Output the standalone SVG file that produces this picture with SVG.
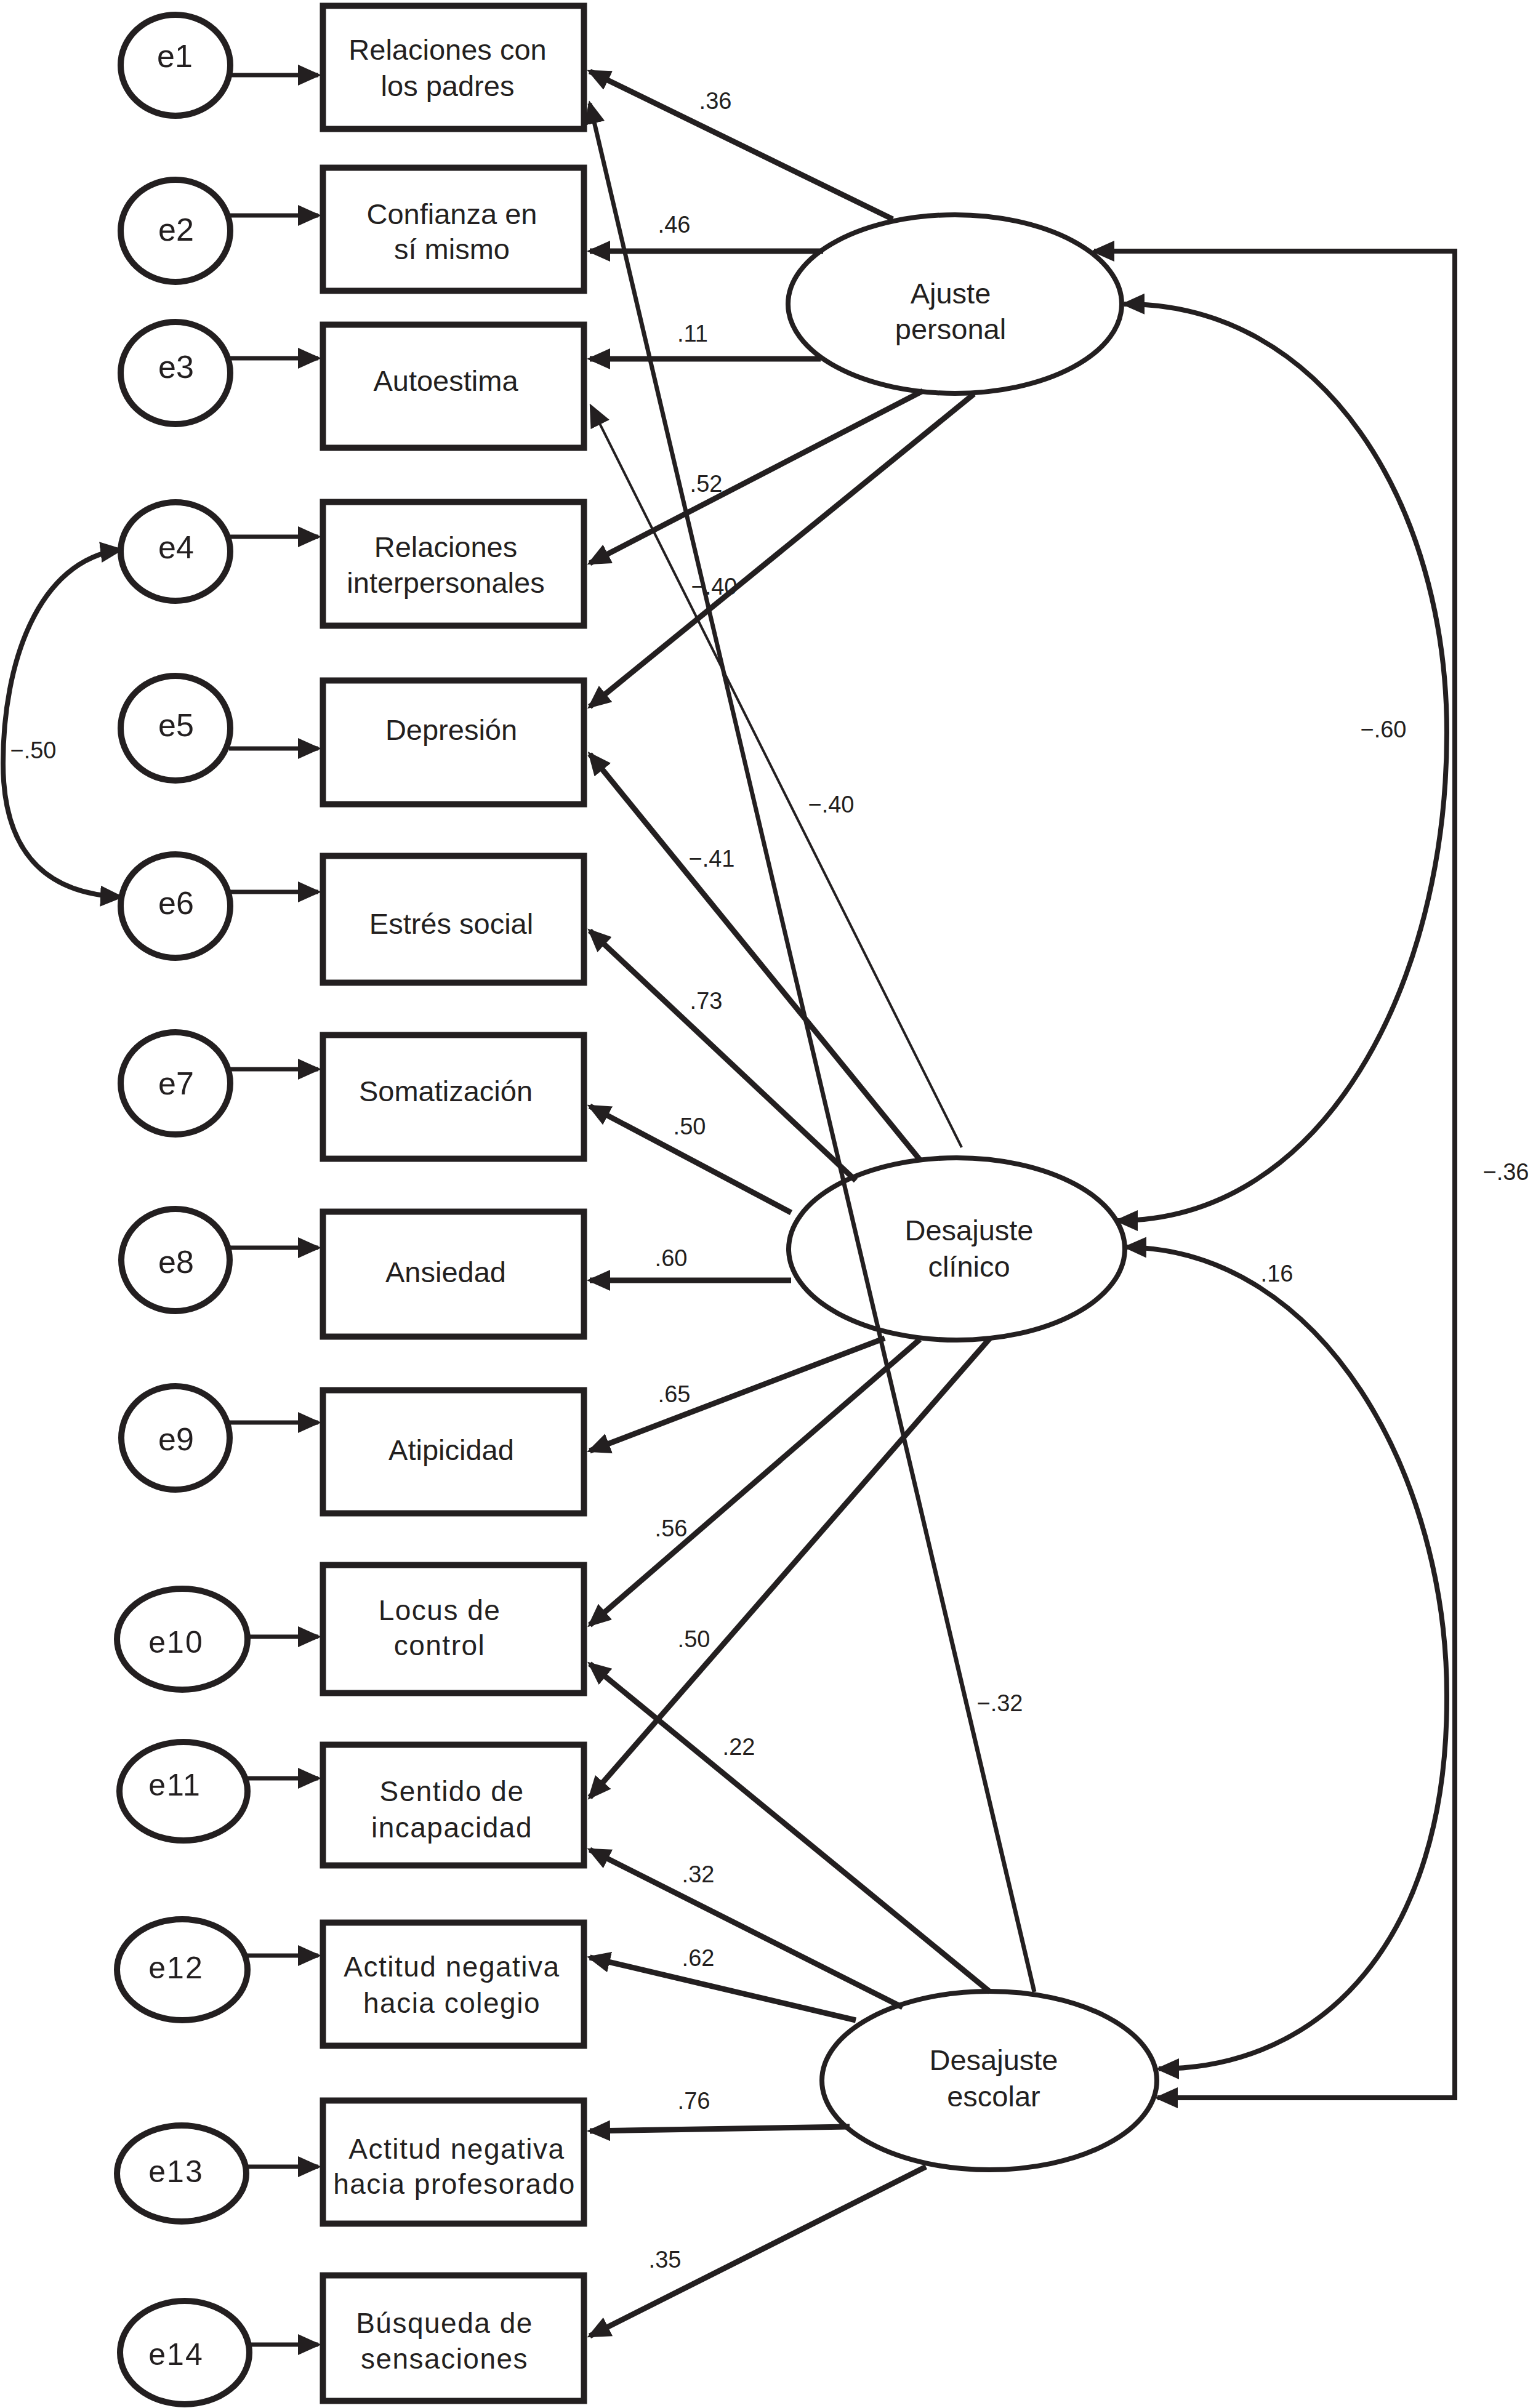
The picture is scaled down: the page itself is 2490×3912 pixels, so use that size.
<svg xmlns="http://www.w3.org/2000/svg" width="2490" height="3912" viewBox="0 0 2490 3912">
<defs>
<style>
.box{fill:#fff;stroke:#231f20;stroke-width:10}
.err{fill:#fff;stroke:#231f20;stroke-width:10}
.lat{fill:#fff;stroke:#231f20;stroke-width:8}
.c{fill:none;stroke:#231f20;stroke-width:9;marker-end:url(#ah)}
.ea{fill:none;stroke:#231f20;stroke-width:7;marker-end:url(#ah)}
.thin{stroke-width:4}
.mid{stroke-width:7}
.cov{fill:none;stroke:#231f20;stroke-width:8;marker-start:url(#ah);marker-end:url(#ah)}
.t{font-family:"Liberation Sans",Arial,Helvetica,sans-serif;font-size:47px;fill:#231f20;text-anchor:middle}
.tw{font-family:"Liberation Sans",Arial,Helvetica,sans-serif;font-size:46px;fill:#231f20;text-anchor:middle;letter-spacing:1.5px}
.et{font-family:"Liberation Sans",Arial,Helvetica,sans-serif;font-size:52px;fill:#231f20;text-anchor:middle}
.etw{font-family:"Liberation Sans",Arial,Helvetica,sans-serif;font-size:50px;fill:#231f20;text-anchor:middle;letter-spacing:2px}
.lab{font-family:"Liberation Sans",Arial,Helvetica,sans-serif;font-size:38px;fill:#231f20;text-anchor:middle}
</style>
<marker id="ah" markerUnits="userSpaceOnUse" viewBox="0 0 38 34" markerWidth="38" markerHeight="34" refX="33" refY="17" orient="auto-start-reverse">
<path d="M0,0 L38,17 L0,34 z" fill="#231f20"/>
</marker>
</defs>
<rect width="2490" height="3912" fill="#fff"/>

<!-- error terms -->
<g id="e1"><ellipse class="err" cx="285" cy="106" rx="89" ry="82"/><text class="et" x="284" y="109">e1</text></g>
<g id="e2"><ellipse class="err" cx="285" cy="375" rx="89" ry="83"/><text class="et" x="286" y="391">e2</text></g>
<g id="e3"><ellipse class="err" cx="285" cy="606" rx="89" ry="83"/><text class="et" x="286" y="614">e3</text></g>
<g id="e4"><ellipse class="err" cx="285" cy="896" rx="89" ry="80"/><text class="et" x="286" y="907">e4</text></g>
<g id="e5"><ellipse class="err" cx="285" cy="1183" rx="89" ry="85"/><text class="et" x="286" y="1196">e5</text></g>
<g id="e6"><ellipse class="err" cx="285" cy="1472" rx="89" ry="84"/><text class="et" x="286" y="1485">e6</text></g>
<g id="e7"><ellipse class="err" cx="285" cy="1760" rx="89" ry="83"/><text class="et" x="286" y="1778">e7</text></g>
<g id="e8"><ellipse class="err" cx="285" cy="2047" rx="88" ry="83"/><text class="et" x="286" y="2068">e8</text></g>
<g id="e9"><ellipse class="err" cx="285" cy="2336" rx="88" ry="84"/><text class="et" x="286" y="2356">e9</text></g>
<g id="e10"><ellipse class="err" cx="296" cy="2663" rx="106" ry="82"/><text class="etw" x="286" y="2685">e10</text></g>
<g id="e11"><ellipse class="err" cx="298" cy="2910" rx="104" ry="80"/><text class="etw" x="284" y="2917">e11</text></g>
<g id="e12"><ellipse class="err" cx="296" cy="3200" rx="106" ry="82"/><text class="etw" x="286" y="3214">e12</text></g>
<g id="e13"><ellipse class="err" cx="295" cy="3531" rx="105" ry="78"/><text class="etw" x="286" y="3545">e13</text></g>
<g id="e14"><ellipse class="err" cx="300" cy="3822" rx="105" ry="84"/><text class="etw" x="286" y="3842">e14</text></g>

<!-- indicators -->
<g id="box1"><rect class="box" x="524.5" y="9.5" width="424" height="200"/><text class="t" x="727" y="97">Relaciones con</text><text class="t" x="727" y="156">los padres</text></g>
<g id="box2"><rect class="box" x="524.5" y="272.5" width="424" height="200"/><text class="t" x="734" y="364">Confianza en</text><text class="t" x="734" y="421">sí mismo</text></g>
<g id="box3"><rect class="box" x="524.5" y="527.5" width="424" height="200"/><text class="t" x="724" y="635">Autoestima</text></g>
<g id="box4"><rect class="box" x="524.5" y="815.5" width="424" height="201"/><text class="t" x="724" y="905">Relaciones</text><text class="t" x="724" y="963">interpersonales</text></g>
<g id="box5"><rect class="box" x="524.5" y="1105.5" width="424" height="201"/><text class="t" x="733" y="1202">Depresión</text></g>
<g id="box6"><rect class="box" x="524.5" y="1390.5" width="424" height="206"/><text class="t" x="733" y="1517">Estrés social</text></g>
<g id="box7"><rect class="box" x="524.5" y="1681.5" width="424" height="201"/><text class="t" x="724" y="1789">Somatización</text></g>
<g id="box8"><rect class="box" x="524.5" y="1968.5" width="424" height="203"/><text class="t" x="724" y="2083">Ansiedad</text></g>
<g id="box9"><rect class="box" x="524.5" y="2258.5" width="424" height="200"/><text class="t" x="733" y="2372">Atipicidad</text></g>
<g id="box10"><rect class="box" x="524.5" y="2542.5" width="424" height="208"/><text class="tw" x="714" y="2632">Locus de</text><text class="tw" x="714" y="2689">control</text></g>
<g id="box11"><rect class="box" x="524.5" y="2834.5" width="424" height="196"/><text class="tw" x="734" y="2926">Sentido de</text><text class="tw" x="734" y="2985">incapacidad</text></g>
<g id="box12"><rect class="box" x="524.5" y="3123.5" width="424" height="200"/><text class="tw" x="734" y="3211">Actitud negativa</text><text class="tw" x="734" y="3270">hacia colegio</text></g>
<g id="box13"><rect class="box" x="524.5" y="3412.5" width="424" height="200"/><text class="tw" x="742" y="3507">Actitud negativa</text><text class="tw" x="738" y="3564">hacia profesorado</text></g>
<g id="box14"><rect class="box" x="524.5" y="3696.5" width="424" height="204"/><text class="tw" x="722" y="3790">Búsqueda de</text><text class="tw" x="722" y="3848">sensaciones</text></g>

<!-- latent factors -->
<g id="ajuste-personal"><ellipse class="lat" cx="1551" cy="494" rx="271" ry="145"/><text class="t" x="1544" y="493">Ajuste</text><text class="t" x="1544" y="551">personal</text></g>
<g id="desajuste-clinico"><ellipse class="lat" cx="1554" cy="2029" rx="273" ry="148"/><text class="t" x="1574" y="2015">Desajuste</text><text class="t" x="1574" y="2074">clínico</text></g>
<g id="desajuste-escolar"><ellipse class="lat" cx="1607" cy="3380" rx="272" ry="145"/><text class="t" x="1614" y="3363">Desajuste</text><text class="t" x="1614" y="3422">escolar</text></g>

<g id="connectors">
<!-- error to indicator -->
<path class="ea" d="M372,122 L517,122"/>
<path class="ea" d="M373,350 L517,350"/>
<path class="ea" d="M373,582 L517,582"/>
<path class="ea" d="M371,872 L517,872"/>
<path class="ea" d="M372,1216 L517,1216"/>
<path class="ea" d="M372,1449 L517,1449"/>
<path class="ea" d="M372,1737 L517,1737"/>
<path class="ea" d="M371,2027 L517,2027"/>
<path class="ea" d="M371,2311 L517,2311"/>
<path class="ea" d="M400,2659 L517,2659"/>
<path class="ea" d="M400,2889 L517,2889"/>
<path class="ea" d="M400,3177 L517,3177"/>
<path class="ea" d="M398,3520 L517,3520"/>
<path class="ea" d="M403,3809 L517,3809"/>

<!-- Ajuste personal -->
<path class="c" d="M1450,356 L958,116"/>
<path class="c" d="M1337,408 L958,408"/>
<path class="c" d="M1333,583 L958,583"/>
<path class="c" d="M1499,635 L958,915"/>
<path class="c" d="M1582,640 L958,1148"/>

<!-- Desajuste clinico -->
<path class="c" d="M1494,1884 L958,1225"/>
<path class="c thin" d="M1562,1864 L960,660"/>
<path class="c" d="M1390,1918 L958,1512"/>
<path class="c" d="M1285,1970 L958,1797"/>
<path class="c" d="M1285,2080 L958,2080"/>
<path class="c" d="M1437,2174 L958,2357"/>
<path class="c" d="M1494,2176 L958,2640"/>
<path class="c" d="M1608,2174 L958,2920"/>

<!-- Desajuste escolar -->
<path class="c" d="M1608,3236 L958,2703"/>
<path class="c mid" d="M1680,3236 L958,168"/>
<path class="c" d="M1466,3261 L958,3005"/>
<path class="c" d="M1390,3282 L958,3180"/>
<path class="c" d="M1380,3455 L958,3462"/>
<path class="c" d="M1504,3520 L958,3795"/>

<!-- covariances -->
<path class="cov" d="M1826,494 C2150,492 2350,820 2350,1190 C2350,1600 2150,1983 1815,1983"/>
<path class="cov" d="M1829,2026 C2150,2030 2352,2400 2350,2760 C2350,3150 2150,3361 1882,3361"/>
<path class="cov" d="M1777,408 L2363,408 L2363,3408 L1880,3408"/>
<path class="cov" d="M196,893 C60,910 5,1080 5,1240 C5,1380 70,1452 196,1457"/>
</g>

<g id="labels">
<text class="lab" x="1162" y="177">.36</text>
<text class="lab" x="1095" y="378">.46</text>
<text class="lab" x="1125" y="555">.11</text>
<text class="lab" x="1147" y="799">.52</text>
<text class="lab" x="1160" y="966">−.40</text>
<text class="lab" x="1350" y="1320">−.40</text>
<text class="lab" x="1156" y="1408">−.41</text>
<text class="lab" x="1147" y="1639">.73</text>
<text class="lab" x="1120" y="1843">.50</text>
<text class="lab" x="1090" y="2057">.60</text>
<text class="lab" x="1095" y="2278">.65</text>
<text class="lab" x="1090" y="2496">.56</text>
<text class="lab" x="1127" y="2676">.50</text>
<text class="lab" x="1200" y="2851">.22</text>
<text class="lab" x="1134" y="3058">.32</text>
<text class="lab" x="1134" y="3194">.62</text>
<text class="lab" x="1127" y="3426">.76</text>
<text class="lab" x="1080" y="3684">.35</text>
<text class="lab" x="1624" y="2780">−.32</text>
<text class="lab" x="2247" y="1198">−.60</text>
<text class="lab" x="2074" y="2082">.16</text>
<text class="lab" x="2446" y="1917">−.36</text>
<text class="lab" x="54" y="1232">−.50</text>
</g>
</svg>
